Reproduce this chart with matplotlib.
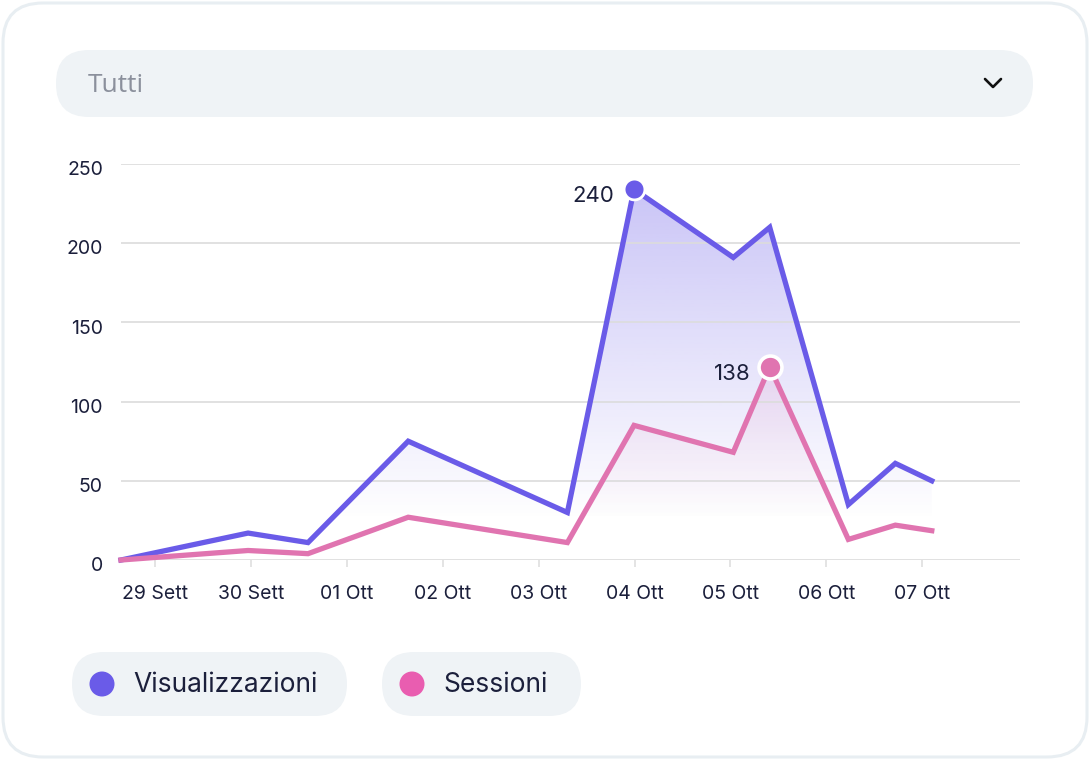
import numpy as np
import matplotlib.pyplot as plt
import matplotlib.patches as mpatches
from matplotlib.transforms import ScaledTranslation

plt.rcParams['font.family'] = ['Inter', 'DejaVu Sans']

# data (x in days from 29 Sett)
day_labels = ['29 Sett', '30 Sett', '01 Ott', '02 Ott', '03 Ott', '04 Ott', '05 Ott', '06 Ott', '07 Ott']
x_days = [-0.355, 0.97, 1.595, 2.64, 4.30, 4.995, 6.03, 6.41, 7.23, 7.72, 8.10]
views = [0, 17, 11, 75, 30, 234, 191, 210, 35, 61, 50]
sessions = [0, 6, 4, 27, 11, 85, 68, 122, 13, 22, 18.5]
y_ticks = [0, 50, 100, 150, 200, 250]
peak_labels = ['240', '138']
series_names = ['Visualizzazioni', 'Sessioni']

purple = '#6a5be8'
pink = '#e074b0'
pink_dot = '#e95db0'
txt = '#1b1f3b'
grid_c = '#dcdcdc'
pill_c = '#eff3f6'

fig = plt.figure(figsize=(10.9, 7.6), dpi=100)
fig.patch.set_facecolor('white')

# background axes in pixel coords for the card / pills
bg = fig.add_axes([0, 0, 1, 1], zorder=-1)
bg.set_xlim(0, 1090)
bg.set_ylim(760, 0)
bg.axis('off')

bg.add_patch(mpatches.FancyBboxPatch((3, 3), 1084, 754, boxstyle='round,pad=0,rounding_size=40',
                                     fc='white', ec='#e8eef2', lw=2.2))
bg.add_patch(mpatches.FancyBboxPatch((56, 50), 977, 67, boxstyle='round,pad=0,rounding_size=33',
                                     fc=pill_c, ec='none'))
bg.text(88, 85, 'Tutti', fontsize=19, color='#8b909c', va='center', ha='left',
        family=['Open Sans', 'DejaVu Sans'])
bg.plot([985, 993, 1001], [79, 87, 79], color='#111111', lw=1.9, solid_capstyle='round',
        solid_joinstyle='round')

# legend pills
for (x0, w, dot_x, name, c) in [(72, 275, 102, series_names[0], purple),
                                 (382, 199, 412, series_names[1], pink_dot)]:
    bg.add_patch(mpatches.FancyBboxPatch((x0, 652), w, 64, boxstyle='round,pad=0,rounding_size=32',
                                         fc=pill_c, ec='none'))
    bg.add_patch(mpatches.Circle((dot_x, 684), 12.5, fc=c, ec='none'))
    bg.text(dot_x + 31, 685, name, fontsize=19, color=txt, va='center', ha='left')

# chart
ax = fig.add_axes([121 / 1090, 1 - 560 / 760, (1020 - 121) / 1090, (560 - 164) / 760])
ax.set_xlim(-0.355, 9.02)
ax.set_ylim(0, 250)
for s in ax.spines.values():
    s.set_visible(False)
ax.set_facecolor('none')
ax.set_axisbelow(True)
ax.yaxis.grid(True, color=grid_c, lw=1.2)
ax.set_yticks(y_ticks)
ax.set_xticks(np.arange(len(day_labels)))
ax.set_xticklabels(day_labels)
ax.tick_params(axis='y', length=0, pad=13, labelsize=14, labelcolor=txt)
ax.tick_params(axis='x', length=5, width=1.1, color=grid_c, pad=13, labelsize=14, labelcolor=txt)
for lab in ax.get_yticklabels():
    lab.set_transform(lab.get_transform() + ScaledTranslation(0, -3 / 72, fig.dpi_scale_trans))


def gradient_fill(xs, ys, color, a_top, v_zero, z):
    rgb = np.array(plt.matplotlib.colors.to_rgb(color))
    vals = np.linspace(250, 0, 300)
    alpha = np.clip((vals - v_zero) / (250 - v_zero), 0, 1) * a_top
    img = np.zeros((300, 1, 4))
    img[:, 0, :3] = rgb
    img[:, 0, 3] = alpha
    im = ax.imshow(img, aspect='auto', extent=[xs[0], xs[-1], 0, 250], origin='upper',
                   zorder=z, interpolation='bilinear')
    verts = list(zip(xs, ys)) + [(xs[-1], 0), (xs[0], 0)]
    poly = mpatches.Polygon(verts, closed=True, transform=ax.transData)
    im.set_clip_path(poly)


gradient_fill(x_days, views, purple, 0.38, 25, 0.1)
gradient_fill(x_days, sessions, pink, 0.34, 25, 0.2)

ax.plot(x_days, views, color=purple, lw=3.8, solid_joinstyle='miter', zorder=3, clip_on=False)
ax.plot(x_days, sessions, color=pink, lw=3.8, solid_joinstyle='miter', zorder=3, clip_on=False)

# highlighted peaks
iv = int(np.argmax(views))
isess = int(np.argmax(sessions))
ax.plot(x_days[iv], views[iv], 'o', ms=15, color=purple, mec='white', mew=2, zorder=4)
ax.plot(x_days[isess], sessions[isess], 'o', ms=16.5, color=pink, mec='white', mew=2.6, zorder=4)
ax.annotate(peak_labels[0], (x_days[iv], views[iv]), xytext=(-14, -5), textcoords='offset points',
            ha='right', va='center', fontsize=16, color=txt)
ax.annotate(peak_labels[1], (x_days[isess], sessions[isess]), xytext=(-14, -5), textcoords='offset points',
            ha='right', va='center', fontsize=16, color=txt)

fig.savefig('out.png', dpi=100, facecolor='white')
